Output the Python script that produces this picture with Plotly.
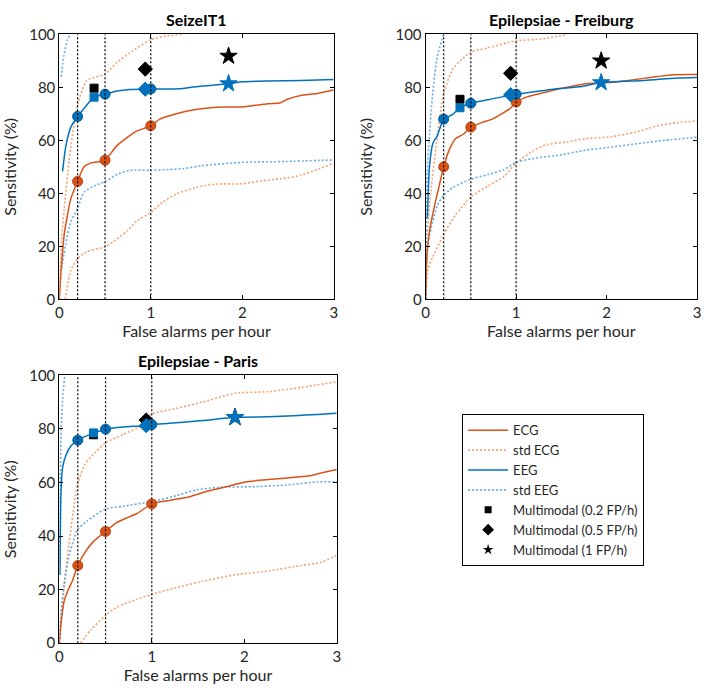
import plotly.graph_objects as go

# ---------------- data ----------------
fa_ticks = [0, 1, 2, 3]
sens_ticks = [0, 20, 40, 60, 80, 100]
fa_thresholds = [0.2, 0.5, 1.0]
titles = ["SeizeIT1", "Epilepsiae - Freiburg", "Epilepsiae - Paris"]

# SeizeIT1
s1_ecg_x = [0, 0.02, 0.054, 0.126, 0.2, 0.27, 0.34, 0.45, 0.5, 0.63, 0.74, 0.84, 1.0, 1.1, 1.28, 1.49, 1.71, 2.0, 2.14, 2.28, 2.42, 2.5, 2.64, 2.82, 3.0]
s1_ecg_y = [0, 11, 24.5, 38, 44.5, 50, 51.4, 52, 52.5, 58, 61, 63.4, 65.5, 68, 70, 71.6, 72.5, 72.6, 73.2, 73.8, 74.2, 75.6, 76.9, 77.7, 79]
s1_eeg_x = [0.036, 0.07, 0.126, 0.2, 0.27, 0.38, 0.5, 0.63, 0.77, 0.95, 1.0, 1.2, 1.35, 1.56, 1.85, 2.0, 2.28, 2.64, 3.0]
s1_eeg_y = [48.3, 57.5, 65, 69, 72, 76.3, 77.4, 78.6, 79.2, 79.3, 79.4, 79.4, 79.6, 80.5, 81.4, 82.1, 82.4, 82.6, 83]
s1_ecg_up_x = [0, 0.025, 0.054, 0.108, 0.2, 0.3, 0.5, 0.63, 0.77, 1.0, 1.17, 1.35]
s1_ecg_up_y = [0, 23, 34, 52.6, 73.4, 82.6, 85, 89.4, 93, 98, 99.4, 100]
s1_ecg_lo_x = [0.065, 0.126, 0.2, 0.3, 0.5, 0.59, 0.74, 0.84, 1.0, 1.13, 1.28, 1.49, 1.71, 2.0, 2.21, 2.42, 2.64, 2.82, 3.0]
s1_ecg_lo_y = [0, 11, 15.3, 18, 19.8, 21.8, 25.7, 29.4, 32.8, 36.7, 39.8, 42.2, 43.5, 43.6, 44.7, 45.5, 46.8, 49, 51.4]
s1_eeg_up_x = [0.02, 0.05, 0.09, 0.12]
s1_eeg_up_y = [84, 92, 98, 100]
s1_eeg_lo_x = [0.025, 0.07, 0.126, 0.2, 0.27, 0.38, 0.5, 0.63, 0.77, 1.0, 1.2, 1.35, 1.56, 2.0, 2.46, 3.0]
s1_eeg_lo_y = [11.6, 20.8, 29.4, 34.3, 40.4, 42.8, 44.4, 47.1, 48.7, 48.7, 49, 49.3, 50.4, 51.7, 52, 52.6]
s1_ecg_mk_y = [44.5, 52.5, 65.5]
s1_eeg_mk_y = [69, 77.4, 79.4]
s1_eeg_sq = [0.38, 76.3]
s1_eeg_di = [0.94, 79.3]
s1_eeg_st = [1.85, 81.4]
s1_mm_sq = [0.38, 79.7]
s1_mm_di = [0.94, 86.9]
s1_mm_st = [1.85, 91.8]

# Epilepsiae - Freiburg
s2_ecg_x = [0, 0.014, 0.043, 0.1, 0.15, 0.2, 0.26, 0.33, 0.42, 0.5, 0.62, 0.73, 0.84, 0.94, 1.0, 1.13, 1.27, 1.41, 1.63, 1.77, 2.03, 2.24, 2.5, 2.71, 3.0]
s2_ecg_y = [0, 16, 25.7, 35.5, 42.8, 50, 56.3, 60.6, 62.4, 65, 66.7, 67.9, 70, 72.2, 74.5, 76.5, 77.7, 78.9, 80.5, 81.4, 81.8, 82.6, 83.8, 84.7, 84.8]
s2_eeg_x = [0.02, 0.043, 0.08, 0.13, 0.2, 0.3, 0.38, 0.5, 0.69, 0.94, 1.0, 1.2, 1.41, 1.7, 1.94, 2.42, 2.78, 3.0]
s2_eeg_y = [30.6, 50, 58.8, 61.8, 68, 69.8, 72.3, 74, 75.3, 77.1, 77.4, 78.3, 79.3, 80.2, 81.8, 82.6, 83.5, 83.7]
s2_ecg_up_x = [0, 0.014, 0.06, 0.115, 0.2, 0.3, 0.4, 0.5, 0.69, 0.91, 1.0, 1.27, 1.56]
s2_ecg_up_y = [0, 23, 41.6, 57.5, 77.7, 86.9, 90.6, 93.3, 94.9, 96.9, 97.6, 98.2, 100]
s2_ecg_lo_x = [0, 0.025, 0.08, 0.2, 0.33, 0.5, 0.69, 0.87, 1.0, 1.2, 1.34, 1.56, 1.77, 2.06, 2.31, 2.57, 2.78, 3.0]
s2_ecg_lo_y = [0, 11, 16, 24.5, 31.8, 38.6, 42.8, 46.5, 51.4, 56.3, 58.4, 59.4, 60.6, 61.4, 63, 65.5, 66.7, 67.3]
s2_eeg_up_x = [0, 0.018, 0.043, 0.08, 0.13, 0.2]
s2_eeg_up_y = [0, 47.7, 62.4, 78.3, 91.8, 100]
s2_eeg_lo_x = [0, 0.025, 0.08, 0.13, 0.2, 0.3, 0.5, 0.69, 0.87, 1.0, 1.2, 1.49, 1.77, 2.06, 2.35, 2.64, 3.0]
s2_eeg_lo_y = [0, 20.8, 29.4, 35.5, 39.2, 42.2, 45.3, 47.1, 49, 51.7, 53.2, 54.5, 56.3, 57.5, 58.8, 60, 61.2]
s2_ecg_mk_y = [50, 65, 74.5]
s2_eeg_mk_y = [68, 74, 77.4]
s2_eeg_sq = [0.38, 72.3]
s2_eeg_di = [0.94, 77.2]
s2_eeg_st = [1.94, 81.8]
s2_mm_sq = [0.38, 75.5]
s2_mm_di = [0.94, 85.3]
s2_mm_st = [1.94, 90]

# Epilepsiae - Paris
s3_ecg_x = [0, 0.018, 0.053, 0.09, 0.14, 0.2, 0.28, 0.37, 0.5, 0.62, 0.73, 0.84, 1.0, 1.19, 1.41, 1.62, 1.83, 2.01, 2.26, 2.47, 2.69, 2.83, 3.0]
s3_ecg_y = [0, 7.3, 15.8, 19.5, 23.1, 29, 34, 38, 41.7, 45, 46.8, 48.4, 52, 53.3, 54.7, 56.9, 58.6, 60.2, 61.1, 61.7, 62.4, 63.5, 64.8]
s3_eeg_x = [0.007, 0.018, 0.036, 0.07, 0.125, 0.2, 0.37, 0.5, 0.69, 0.94, 1.0, 1.19, 1.55, 1.9, 2.26, 2.54, 2.79, 3.0]
s3_eeg_y = [25.5, 56, 65.7, 70, 73.6, 75.8, 78.4, 79.9, 80.7, 81.2, 81.6, 82.1, 83.1, 84.3, 84.5, 84.9, 85.4, 85.8]
s3_ecg_up_x = [0, 0.025, 0.053, 0.107, 0.2, 0.28, 0.37, 0.5, 0.69, 0.91, 1.0, 1.26, 1.55, 1.9, 2.26, 2.62, 3.0]
s3_ecg_up_y = [0, 9.7, 21.9, 37.7, 59.6, 66.9, 70.6, 74.8, 77.9, 81.5, 85.5, 87.6, 90, 93.3, 93.9, 95.5, 97.6]
s3_ecg_lo_x = [0.23, 0.34, 0.5, 0.62, 0.84, 1.0, 1.26, 1.55, 1.9, 2.26, 2.62, 2.83, 3.0]
s3_ecg_lo_y = [0, 4.9, 10.3, 13.4, 16.4, 18.2, 20.7, 23.1, 25.5, 27, 29, 30.2, 32.8]
s3_eeg_up_x = [0.004, 0.01, 0.02, 0.04, 0.06]
s3_eeg_up_y = [30, 60, 80, 93, 100]
s3_eeg_lo_x = [0, 0.018, 0.053, 0.107, 0.2, 0.3, 0.5, 0.69, 1.0, 1.26, 1.48, 1.73, 2.08, 2.44, 2.79, 3.0]
s3_eeg_lo_y = [0, 11, 21.9, 32.8, 42.6, 45.6, 50.1, 51.1, 52.9, 55, 57.2, 58.2, 58.4, 59, 60.2, 60.2]
s3_ecg_mk_y = [29, 41.7, 52]
s3_eeg_mk_y = [75.8, 79.9, 81.6]
s3_eeg_sq = [0.37, 78.5]
s3_eeg_di = [0.94, 81.2]
s3_eeg_st = [1.9, 84.3]
s3_mm_sq = [0.37, 77.8]
s3_mm_di = [0.94, 83.3]
s3_mm_st = [1.9, 84.3]

# ---------------- styling ----------------
ORANGE = "#D95319"
BLUE = "#0072BD"
ORANGE_L = "rgba(240,140,80,0.8)"
BLUE_L = "rgba(60,150,220,0.8)"
FONT = "Lato"
W, H = 709, 696
TXT = "#262626"

panels = [
    dict(ecg=(s1_ecg_x, s1_ecg_y), eeg=(s1_eeg_x, s1_eeg_y),
         ecg_up=(s1_ecg_up_x, s1_ecg_up_y), ecg_lo=(s1_ecg_lo_x, s1_ecg_lo_y),
         eeg_up=(s1_eeg_up_x, s1_eeg_up_y), eeg_lo=(s1_eeg_lo_x, s1_eeg_lo_y),
         ecg_mk=s1_ecg_mk_y, eeg_mk=s1_eeg_mk_y, eeg_sq=s1_eeg_sq, eeg_di=s1_eeg_di,
         eeg_st=s1_eeg_st, mm_sq=s1_mm_sq, mm_di=s1_mm_di, mm_st=s1_mm_st,
         px=(55, 333), py=(25, 297), title_y=10),
    dict(ecg=(s2_ecg_x, s2_ecg_y), eeg=(s2_eeg_x, s2_eeg_y),
         ecg_up=(s2_ecg_up_x, s2_ecg_up_y), ecg_lo=(s2_ecg_lo_x, s2_ecg_lo_y),
         eeg_up=(s2_eeg_up_x, s2_eeg_up_y), eeg_lo=(s2_eeg_lo_x, s2_eeg_lo_y),
         ecg_mk=s2_ecg_mk_y, eeg_mk=s2_eeg_mk_y, eeg_sq=s2_eeg_sq, eeg_di=s2_eeg_di,
         eeg_st=s2_eeg_st, mm_sq=s2_mm_sq, mm_di=s2_mm_di, mm_st=s2_mm_st,
         px=(426, 701), py=(25, 297), title_y=10),
    dict(ecg=(s3_ecg_x, s3_ecg_y), eeg=(s3_eeg_x, s3_eeg_y),
         ecg_up=(s3_ecg_up_x, s3_ecg_up_y), ecg_lo=(s3_ecg_lo_x, s3_ecg_lo_y),
         eeg_up=(s3_eeg_up_x, s3_eeg_up_y), eeg_lo=(s3_eeg_lo_x, s3_eeg_lo_y),
         ecg_mk=s3_ecg_mk_y, eeg_mk=s3_eeg_mk_y, eeg_sq=s3_eeg_sq, eeg_di=s3_eeg_di,
         eeg_st=s3_eeg_st, mm_sq=s3_mm_sq, mm_di=s3_mm_di, mm_st=s3_mm_st,
         px=(55, 336), py=(375, 650), title_y=360),
]

fig = go.Figure()
shapes = []
annotations = []

for i, p in enumerate(panels):
    n = "" if i == 0 else str(i + 1)
    xa, ya = "x" + n, "y" + n

    def line(xy, color, dash, width, name, group):
        fig.add_trace(go.Scatter(
            x=xy[0], y=xy[1], mode="lines", xaxis=xa, yaxis=ya,
            line=dict(color=color, dash=dash, width=width, shape="spline", smoothing=0.6),
            name=name, showlegend=False, legendgroup=group, hoverinfo="skip"))

    line(p["ecg_up"], ORANGE_L, "2px,2px", 1.6, "std ECG", "stdecg")
    line(p["ecg_lo"], ORANGE_L, "2px,2px", 1.6, "std ECG", "stdecg")
    line(p["eeg_up"], BLUE_L, "2px,2px", 1.6, "std EEG", "stdeeg")
    line(p["eeg_lo"], BLUE_L, "2px,2px", 1.6, "std EEG", "stdeeg")
    line(p["ecg"], ORANGE, "solid", 1.5, "ECG", "ecg")
    line(p["eeg"], BLUE, "solid", 1.5, "EEG", "eeg")

    def pts(xs, ys, color, symbol, size, lc=None):
        fig.add_trace(go.Scatter(
            x=xs, y=ys, mode="markers", xaxis=xa, yaxis=ya,
            marker=dict(color=color, symbol=symbol, size=size,
                        line=dict(color=lc or color, width=1)),
            showlegend=False, hoverinfo="skip"))

    # multimodal (black) first so the unimodal markers sit on top
    pts([p["mm_sq"][0]], [p["mm_sq"][1]], "black", "square", 8)
    pts([p["mm_di"][0]], [p["mm_di"][1]], "black", "diamond", 11)
    pts([p["mm_st"][0]], [p["mm_st"][1]], "black", "star", 13)

    pts(fa_thresholds, p["ecg_mk"], ORANGE, "circle", 10, lc="#B8410F")
    pts(fa_thresholds, p["eeg_mk"], BLUE, "circle", 10, lc="#005A99")
    pts([p["eeg_sq"][0]], [p["eeg_sq"][1]], BLUE, "square", 8)
    pts([p["eeg_di"][0]], [p["eeg_di"][1]], BLUE, "diamond", 11)
    pts([p["eeg_st"][0]], [p["eeg_st"][1]], BLUE, "star", 13)

    for t in fa_thresholds:
        shapes.append(dict(type="line", xref=xa, yref=ya, x0=t, x1=t, y0=0, y1=100,
                           line=dict(color="black", width=1.2, dash="2px,2px"), layer="above"))

    dx = [p["px"][0] / W, p["px"][1] / W]
    dy = [1 - p["py"][1] / H, 1 - p["py"][0] / H]
    axis_common = dict(showline=True, linecolor="black", linewidth=1, mirror="ticks",
                       ticks="inside", ticklen=4, tickcolor="black", showgrid=False,
                       zeroline=False, ticklabeloverflow="allow",
                       tickfont=dict(family=FONT, size=15, color=TXT))
    fig.layout["xaxis" + n] = dict(domain=dx, range=[0, 3], tickvals=fa_ticks,
                                   anchor=ya,
                                   title=dict(text="False alarms per hour", standoff=0,
                                              font=dict(family=FONT, size=16, color=TXT)),
                                   **axis_common)
    fig.layout["yaxis" + n] = dict(domain=dy, range=[0, 100], tickvals=sens_ticks,
                                   anchor=xa,
                                   title=dict(text="Sensitivity (%)", standoff=18,
                                              font=dict(family=FONT, size=16, color=TXT)),
                                   **axis_common)
    annotations.append(dict(text="<b>" + titles[i] + "</b>", xref="paper", yref="paper",
                            x=(dx[0] + dx[1]) / 2, y=1 - p["title_y"] / H,
                            xanchor="center", yanchor="middle", showarrow=False,
                            font=dict(family=FONT, size=16, color="black")))

# legend-only entries
legend_items = [
    ("ECG", dict(color=ORANGE, width=1.5, dash="solid"), None),
    ("std ECG", dict(color=ORANGE_L, width=1.6, dash="2px,2px"), None),
    ("EEG", dict(color=BLUE, width=1.5, dash="solid"), None),
    ("std EEG", dict(color=BLUE_L, width=1.6, dash="2px,2px"), None),
    ("Multimodal (0.2 FP/h)", None, dict(symbol="square", size=7, color="black")),
    ("Multimodal (0.5 FP/h)", None, dict(symbol="diamond", size=9, color="black")),
    ("Multimodal (1 FP/h)", None, dict(symbol="star", size=8, color="black")),
]
for name, ln, mk in legend_items:
    if ln is not None:
        fig.add_trace(go.Scatter(x=[None], y=[None], mode="lines", line=ln, name=name,
                                 showlegend=True, xaxis="x", yaxis="y"))
    else:
        fig.add_trace(go.Scatter(x=[None], y=[None], mode="markers", marker=mk, name=name,
                                 showlegend=True, xaxis="x", yaxis="y"))

fig.update_layout(
    width=W, height=H,
    margin=dict(l=0, r=0, t=0, b=0),
    paper_bgcolor="white", plot_bgcolor="white",
    font=dict(family=FONT, size=14, color=TXT),
    shapes=shapes, annotations=annotations,
    legend=dict(x=463 / W, y=1 - 415 / H, xanchor="left", yanchor="top",
                bgcolor="white", bordercolor="black", borderwidth=1,
                font=dict(family=FONT, size=13, color=TXT),
                tracegroupgap=0, itemwidth=40),
)

fig.write_html("out.html", config={"displayModeBar": False},
               post_script="document.body.style.margin='0';document.body.style.overflow='hidden';")
